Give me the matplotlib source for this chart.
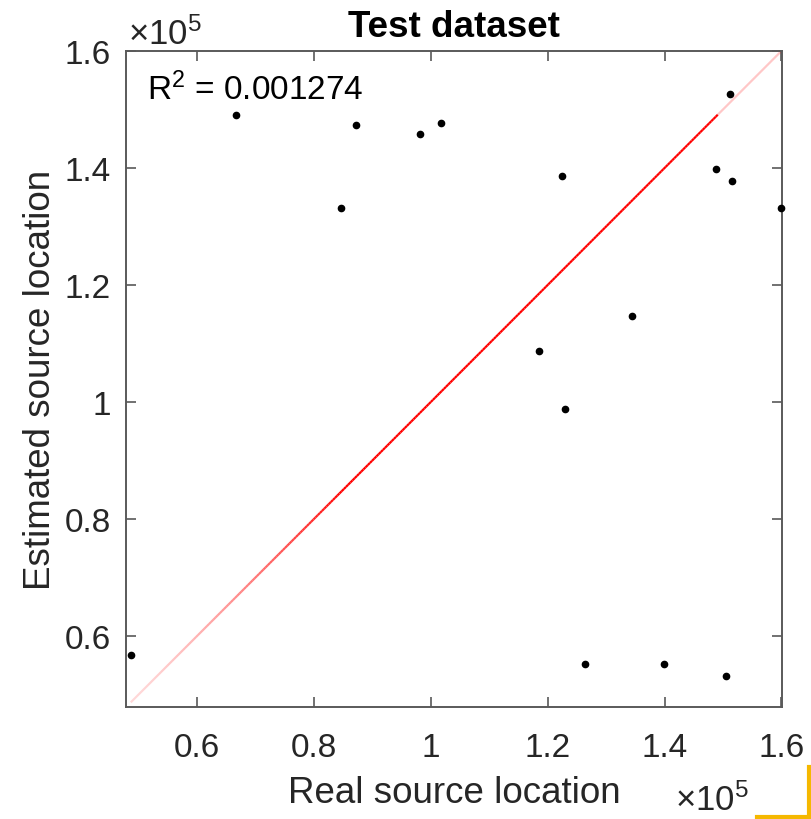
import numpy as np
import matplotlib
matplotlib.use('Agg')
import matplotlib.pyplot as plt
from matplotlib.collections import LineCollection
from matplotlib.lines import Line2D
from matplotlib.ticker import FuncFormatter

plt.rcParams['font.family'] = ['Liberation Sans', 'DejaVu Sans']
plt.rcParams['mathtext.fontset'] = 'custom'
plt.rcParams['mathtext.rm'] = 'Liberation Sans'
plt.rcParams['mathtext.it'] = 'Liberation Sans'
plt.rcParams['mathtext.bf'] = 'Liberation Sans:bold'

# Data (source locations)
real_loc = [48690, 66740, 84740, 87260, 98100, 101830, 118460, 122400, 122970,
            126400, 134460, 139900, 148860, 150570, 151140, 151600, 159900]
est_loc = [56800, 149000, 133160, 147300, 145740, 147700, 108720, 138630, 98740,
           55200, 114750, 55200, 139900, 53270, 152700, 137800, 133200]
r2_value = 0.001274
tick_vals = [60000, 80000, 100000, 120000, 140000, 160000]
title = 'Test dataset'
xlabel = 'Real source location'
ylabel = 'Estimated source location'

TXT = '#262626'
fig = plt.figure(figsize=(8.12, 8.20), dpi=100)
ax = fig.add_axes([126/812, 1-708/820, 656/812, 656/820])

# identity line with faded ends
lo, hi = min(real_loc), max(real_loc)
xs = np.linspace(lo, hi, 300)
pts = np.column_stack([xs, xs]).reshape(-1, 1, 2)
segs = np.concatenate([pts[:-1], pts[1:]], axis=1)
mid = (xs[:-1] + xs[1:]) / 2
alpha = np.ones_like(mid)
a_lo = (mid - lo) / (85000 - lo)
alpha = np.where(mid < 85000, 0.15 + 0.85 * np.clip(a_lo, 0, 1) ** 1.5, alpha)
alpha = np.where(mid > 149000, 0.22, alpha)
cols = np.zeros((len(mid), 4))
cols[:, 0] = 1.0
cols[:, 3] = alpha
ax.add_collection(LineCollection(segs, colors=cols, linewidths=1.6))

ax.plot(real_loc, est_loc, 'o', color='black', markersize=4.5, linestyle='none',
        clip_on=False, zorder=3)

ax.set_xlim(47880, 160100)
ax.set_ylim(47900, 160000)
ax.set_xticks(tick_vals)
ax.set_yticks(tick_vals)
fmt = FuncFormatter(lambda v, p: f'{v/1e5:g}')
ax.xaxis.set_major_formatter(fmt)
ax.yaxis.set_major_formatter(fmt)
ax.tick_params(direction='in', length=7, width=1.1, colors='#4a4a4a',
               labelcolor=TXT, labelsize=24, top=True, right=True)
ax.tick_params(axis='x', pad=18)
ax.tick_params(axis='y', pad=11)
for s in ax.spines.values():
    s.set_color('#5a5a5a')
    s.set_linewidth(1.4)

ax.set_title(title, fontsize=26.5, fontweight='bold', color='black', pad=11)
ax.set_xlabel(xlabel, fontsize=26.5, color=TXT, labelpad=9)
ax.set_ylabel(ylabel, fontsize=26.5, color=TXT, labelpad=4.8)

ax.text(51500, 151800, r'R$^2$ = ' + f'{r2_value:g}',
        fontsize=24, color='black', va='baseline', ha='left')

fig.text(128/812, 1-45/820, r'$\times$10$^5$', fontsize=25, color=TXT,
         ha='left', va='baseline')
fig.text(675/812, 1-811/820, r'$\times$10$^5$', fontsize=25, color=TXT,
         ha='left', va='baseline')

# yellow corner marks
fig.add_artist(Line2D([809/812, 809/812], [1-768/820, 1-818/820], color='#f5b800',
                      linewidth=3, transform=fig.transFigure))
fig.add_artist(Line2D([757/812, 810/812], [1-818/820, 1-818/820], color='#f5b800',
                      linewidth=3, transform=fig.transFigure))

fig.savefig('out.png', dpi=100)
